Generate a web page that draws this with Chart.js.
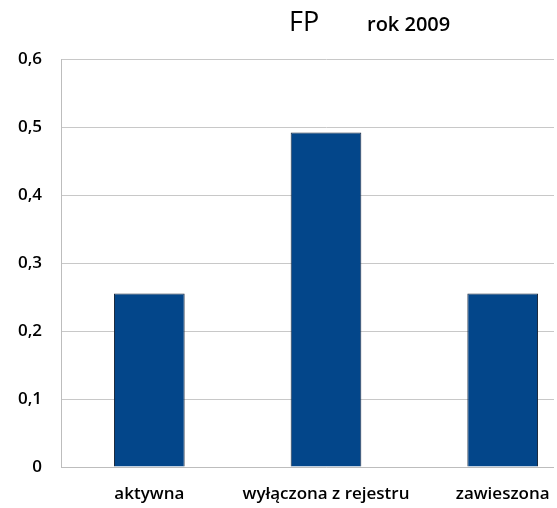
<!DOCTYPE html>
<html>
<head>
<meta charset="utf-8">
<script src="https://cdn.jsdelivr.net/npm/chart.js@4/dist/chart.umd.min.js"></script>
<style>
  html, body { margin: 0; padding: 0; background: #fff; overflow: hidden; }
  #wrap { width: 554px; height: 508px; overflow: hidden; position: relative; }
  #box { width: 600px; height: 508px; }
</style>
</head>
<body>
<div id="wrap"><div id="box"><canvas id="chartCanvas"></canvas></div></div>
<script>
const categories = ['aktywna', 'wyłączona z rejestru', 'zawieszona'];
const values = [0.255, 0.492, 0.255];
const titleMain = 'FP';
const titleYear = 'rok 2009';

// tytuł rysowany ręcznie (dwie różne czcionki)
const titlePlugin = {
    id: 'fpTitle',
    afterDraw(chart) {
        const c = chart.ctx;
        c.save();
        c.fillStyle = '#000';
        c.textBaseline = 'middle';
        c.textAlign = 'left';
        c.font = '27px "Open Sans", sans-serif';
        c.fillText(titleMain, 289, 23);
        c.font = '600 20px "Open Sans", sans-serif';
        c.fillText(titleYear, 367, 25);
        c.restore();
    }
};

const ctx = document.getElementById('chartCanvas').getContext('2d');
window.myChart = new Chart(ctx, {
    type: 'bar',
    data: {
        labels: categories,
        datasets: [{
            label: 'FP',
            data: values,
            backgroundColor: '#03468a',
            borderColor: '#1c2b3f',
            borderWidth: 1,
            barPercentage: 0.4,
            categoryPercentage: 1
        }]
    },
    options: {
        responsive: true,
        maintainAspectRatio: false,
        animation: false,
        layout: { padding: { top: 59, right: 9, left: 0, bottom: 0 } },
        plugins: {
            legend: { display: false },
            title: { display: false },
            tooltip: { enabled: false }
        },
        scales: {
            x: {
                grid: { display: false, drawTicks: false },
                border: { color: '#bdbdbd', width: 1 },
                ticks: {
                    color: '#000',
                    padding: 17,
                    maxRotation: 0,
                    autoSkip: false,
                    font: { family: 'Open Sans', size: 17, weight: '600' }
                },
                afterFit: function(scale) { scale.height = 41; }
            },
            y: {
                min: 0,
                max: 0.6,
                grid: { color: '#c8c8c8', drawTicks: false },
                border: { color: '#bdbdbd', width: 1 },
                ticks: {
                    stepSize: 0.1,
                    color: '#000',
                    padding: 19,
                    font: { family: 'Open Sans', size: 17, weight: '600' },
                    callback: function(v) {
                        return v === 0 ? '0' : v.toFixed(1).replace('.', ',');
                    }
                },
                afterFit: function(scale) { scale.width = 61; }
            }
        }
    },
    plugins: [titlePlugin]
});
</script>
</body>
</html>
